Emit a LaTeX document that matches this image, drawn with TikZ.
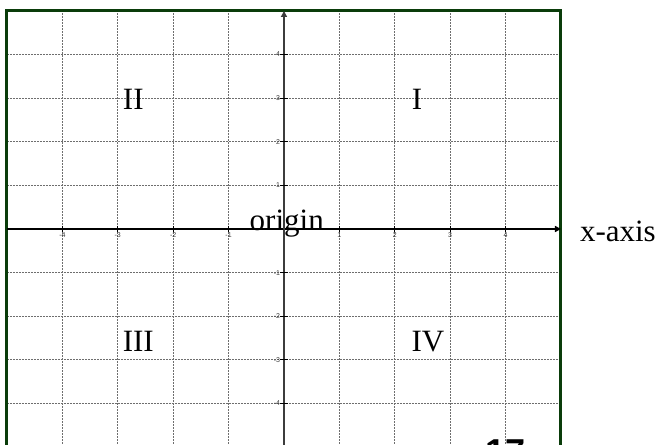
\documentclass[tikz,border=0pt]{standalone}
\usepackage{fontspec}
\setmainfont{Liberation Serif}
\setsansfont{Liberation Sans}
\usepackage{tikz}
\usetikzlibrary{arrows.meta, positioning, calc}
\definecolor{framegreen}{RGB}{10,60,10}
\definecolor{gridgray}{RGB}{110,110,110}
\definecolor{axisgray}{RGB}{60,60,60}

\tikzset{
  gridline/.style={gridgray, line width=0.9pt, dash pattern=on 2pt off 1pt},
  quadlabel/.style={font=\fontsize{31}{36}\selectfont, inner sep=0pt},
  ticklabel/.style={font=\sffamily\fontsize{7}{8}\selectfont, text=axisgray, inner sep=1pt}
}

\begin{document}
\begin{tikzpicture}[x=55.4pt, y=43.6pt, >={Triangle[length=6pt,width=6pt]}]
\useasboundingbox (-5.126,-4.954) rectangle (6.751,5.252);
\fill[white] (-5.126,-4.954) rectangle (6.751,5.252);

% Grid
\foreach \k in {-4,...,4} {
  \draw[gridline] (\k,-5) -- (\k,5);
  \draw[gridline] (-5,\k) -- (5,\k);
}

% Frame
\draw[framegreen, line width=3pt] (-5,-5) rectangle (5,5);

% Axes
\coordinate (xstart) at (-5,0);
\coordinate (xend) at (5,0);
\coordinate (ystart) at (0,-5);
\coordinate (yend) at (0,5);
\draw[->, line width=2pt] (xstart) -- (xend);
\draw[->, axisgray, line width=2.2pt] (ystart) -- (yend);

% Ticks
\foreach \k in {-4,-3,-2,-1,1,2,3,4} {
  \draw[line width=1.2pt] (\k,0.08) -- (\k,-0.08);
  \node[ticklabel, below] at (\k,-0.05) {\k};
  \draw[line width=1.2pt] (-0.08,\k) -- (0.08,\k);
  \node[ticklabel, left] at (-0.05,\k) {\k};
}

% Quadrants
\node[quadlabel, anchor=base] (q1) at (2.40,2.75) {I};
\node[quadlabel, anchor=base] (q2) at (-2.72,2.75) {II};
\node[quadlabel, anchor=base] (q3) at (-2.63,-2.80) {III};
\node[quadlabel, anchor=base] (q4) at (2.60,-2.80) {IV};

% Labels
\node[quadlabel, anchor=base] (origin) at (0.05,-0.04) {origin};
\node[quadlabel, anchor=base west] (xlabel) at (5.34,-0.28) {x-axis};
\node[font=\sffamily\bfseries\fontsize{36}{40}\selectfont, inner sep=0pt, anchor=base] (pagenum) at (3.99,-5.39) {17};
\end{tikzpicture}
\end{document}
